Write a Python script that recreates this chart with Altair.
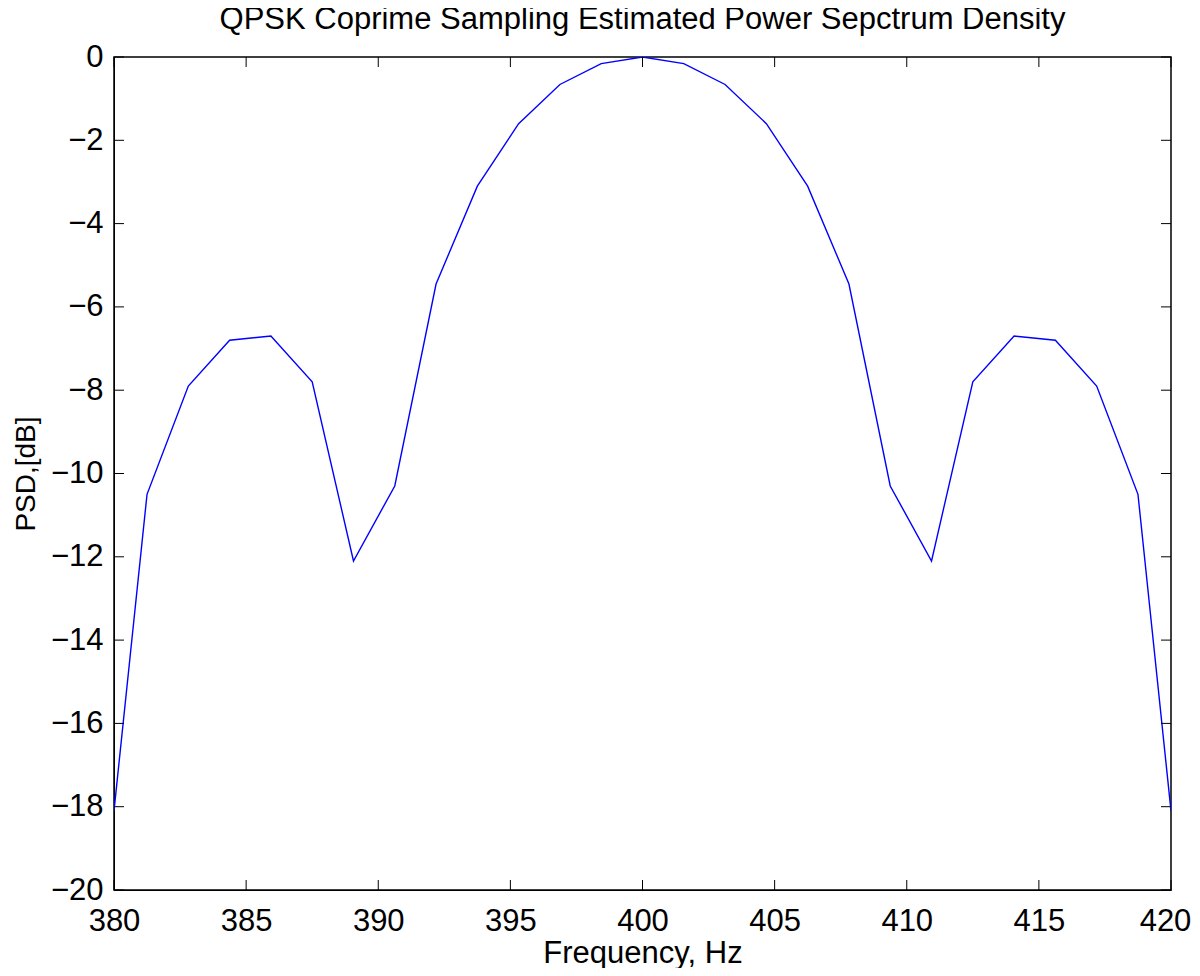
import altair as alt
import pandas as pd

# Frequencies (Hz) and estimated PSD (dB)
freq = [380.0, 381.25, 382.8125, 384.375, 385.9375, 387.5, 389.0625, 390.625,
        392.1875, 393.75, 395.3125, 396.875, 398.4375, 400.0,
        401.5625, 403.125, 404.6875, 406.25, 407.8125, 409.375, 410.9375,
        412.5, 414.0625, 415.625, 417.1875, 418.75, 420.0]
psd = [-18.1, -10.5, -7.9, -6.8, -6.7, -7.8, -12.1, -10.3,
       -5.45, -3.1, -1.6, -0.66, -0.16, 0.0,
       -0.16, -0.66, -1.6, -3.1, -5.45, -10.3, -12.1,
       -7.8, -6.7, -6.8, -7.9, -10.5, -18.1]

x_ticks = [380, 385, 390, 395, 400, 405, 410, 415, 420]
y_ticks = [0, -2, -4, -6, -8, -10, -12, -14, -16, -18, -20]

W, H = 1057, 833
FONT = "Liberation Sans"
TL = 10
LFS = 31

df = pd.DataFrame({"f": freq, "p": psd})
dfx = pd.DataFrame({"f": x_ticks})
dfy = pd.DataFrame({"p": y_ticks})

xs = alt.Scale(domain=[380, 420], nice=False, zero=False)
ys = alt.Scale(domain=[-20, 0], nice=False, zero=False)

xaxis = alt.Axis(title="Frequency, Hz", values=x_ticks, ticks=False,
                 labelPadding=16, labelFontSize=LFS, labelFont=FONT,
                 labelColor="black", titleFont=FONT, titleFontSize=31,
                 titleFontWeight="normal", titleColor="black",
                 titleBaseline="alphabetic", titleY=72,
                 labelOffset={"condition": {"test": "datum.value == 420", "value": -6},
                              "value": 0},
                 domainColor="black", grid=False, labelFlush=False)
yaxis = alt.Axis(title="PSD,[dB]", values=y_ticks, ticks=False,
                 labelPadding=11, labelFontSize=LFS, labelFont=FONT,
                 labelColor="black", titleFont=FONT, titleFontSize=28,
                 titleFontWeight="normal", titleColor="black",
                 titleBaseline="alphabetic", titleX=-80, titleY=H / 2,
                 domainColor="black", grid=False, labelFlush=False)

line = alt.Chart(df).mark_line(color="#0000ff", strokeWidth=1.4, clip=True).encode(
    x=alt.X("f:Q", scale=xs, axis=xaxis),
    y=alt.Y("p:Q", scale=ys, axis=yaxis),
)

xb = alt.Chart(dfx).mark_rule(color="black", strokeWidth=1).encode(
    x=alt.X("f:Q", scale=xs, axis=xaxis), y=alt.value(H), y2=alt.value(H - TL))
xt = alt.Chart(dfx).mark_rule(color="black", strokeWidth=1).encode(
    x=alt.X("f:Q", scale=xs, axis=xaxis), y=alt.value(0), y2=alt.value(TL))
yl = alt.Chart(dfy).mark_rule(color="black", strokeWidth=1).encode(
    y=alt.Y("p:Q", scale=ys, axis=yaxis), x=alt.value(0), x2=alt.value(TL))
yr = alt.Chart(dfy).mark_rule(color="black", strokeWidth=1).encode(
    y=alt.Y("p:Q", scale=ys, axis=yaxis), x=alt.value(W - TL), x2=alt.value(W))

chart = alt.layer(line, xb, xt, yl, yr).properties(
    width=W, height=H,
    background="white",
    title=alt.TitleParams("QPSK Coprime Sampling Estimated Power Sepctrum Density",
                          font=FONT, fontSize=31, fontWeight="normal", color="black",
                          anchor="middle", baseline="alphabetic", offset=-19),
    autosize=alt.AutoSizeParams(type="none"),
    padding={"left": 106, "top": 49, "right": 21, "bottom": 78},
).configure_view(stroke="black", strokeWidth=1.5)

chart.save("out.html", embed_options={"renderer": "svg", "actions": False})
